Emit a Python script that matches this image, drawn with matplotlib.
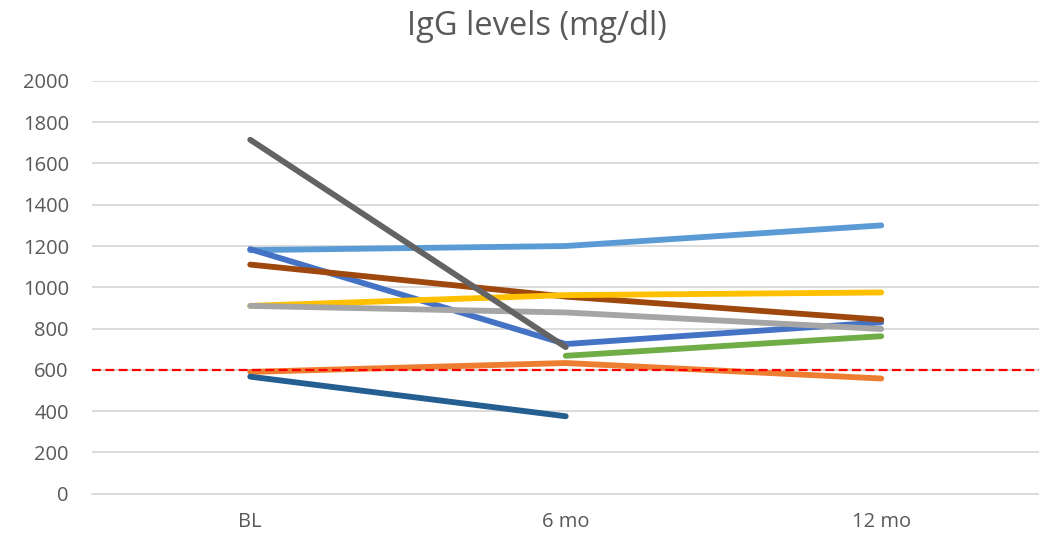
import matplotlib.pyplot as plt
import numpy as np

plt.rcParams['font.family'] = ['Open Sans', 'DejaVu Sans']

visits = ['BL', '6 mo', '12 mo']

# IgG per patient, NaN where no measurement
pt_dark_grey = [1715, 710, np.nan]
pt_light_blue = [1180, 1200, 1300]
pt_blue = [1185, 725, 830]
pt_brown = [1110, 955, 843]
pt_yellow = [910, 962, 975]
pt_grey = [910, 878, 798]
pt_green = [np.nan, 668, 763]
pt_orange = [590, 633, 558]
pt_navy = [567, 375, np.nan]

threshold = 597

series = [
    (pt_light_blue, '#5B9BD5'),
    (pt_blue, '#4472C4'),
    (pt_brown, '#9E480E'),
    (pt_yellow, '#FFC000'),
    (pt_grey, '#A5A5A5'),
    (pt_green, '#70AD47'),
    (pt_orange, '#ED7D31'),
    (pt_navy, '#255E91'),
    (pt_dark_grey, '#636363'),
]

fig, ax = plt.subplots(figsize=(10.39, 5.36), dpi=100)
fig.subplots_adjust(left=0.089, right=1.0, top=0.849, bottom=0.079)

x = np.arange(len(visits))
for vals, col in series:
    ax.plot(x, vals, color=col, lw=4.2, solid_capstyle='round', zorder=3)

ax.axhline(threshold, color='#FF0000', lw=1.6, ls=(0, (4, 2)), zorder=4)

ax.set_xlim(-0.5, 2.5)
ax.set_ylim(0, 2000)
ax.set_yticks(np.arange(0, 2001, 200))
ax.set_xticks(x)
ax.set_xticklabels(visits)
ax.grid(axis='y', color='#D9D9D9', lw=1.3, zorder=0)
ax.set_axisbelow(True)

for s in ['top', 'right', 'left']:
    ax.spines[s].set_visible(False)
ax.spines['bottom'].set_color('#D9D9D9')
ax.spines['bottom'].set_linewidth(1.3)
ax.tick_params(axis='both', length=0, labelsize=14.5, colors='#595959')
ax.tick_params(axis='y', pad=17)
ax.tick_params(axis='x', pad=13)

fig.text(0.517, 0.95, 'IgG levels (mg/dl)', fontsize=23.5, color='#595959',
         ha='center', va='center')

fig.savefig('out.png')
